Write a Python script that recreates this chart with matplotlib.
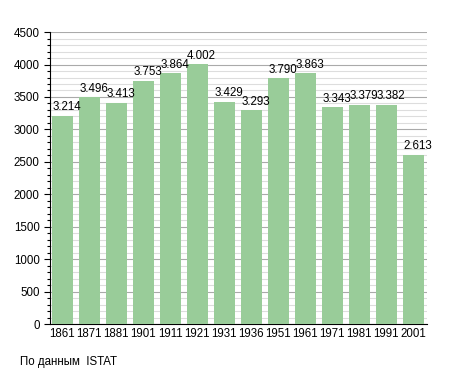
import matplotlib
matplotlib.use("Agg")
import matplotlib.pyplot as plt
from matplotlib.ticker import MultipleLocator

years = ["1861", "1871", "1881", "1901", "1911", "1921", "1931",
         "1936", "1951", "1961", "1971", "1981", "1991", "2001"]
population = [3214, 3496, 3413, 3753, 3864, 4002, 3429,
              3293, 3790, 3863, 3343, 3379, 3382, 2613]

plt.rcParams['font.family'] = ['Liberation Sans', 'DejaVu Sans']

fig = plt.figure(figsize=(4.55, 3.73), dpi=100)
ax = fig.add_axes([0.110, 0.131, 0.828, 0.783])

x = range(len(years))
ax.bar(x, population, width=0.78, color="#99cc99", zorder=3)

# value labels start at the left edge of each bar
for i, v in enumerate(population):
    ax.text(i - 0.37, v + 40, f"{v:,}".replace(",", "."), ha="left", va="bottom",
            fontsize=8.3, zorder=4)

ax.set_xlim(-0.45, len(years) - 0.5)
ax.set_ylim(0, 4500)
ax.set_xticks(list(x))
ax.set_xticklabels(years, fontsize=8.3)
ax.yaxis.set_major_locator(MultipleLocator(500))
ax.yaxis.set_minor_locator(MultipleLocator(100))
ax.tick_params(axis="y", labelsize=8.3, length=4, width=0.8)
ax.tick_params(axis="y", which="minor", length=2.5, width=0.8)
ax.tick_params(axis="x", length=0, pad=3)

ax.grid(axis="y", which="major", color="#aaaaaa", linewidth=0.8, zorder=0)
ax.grid(axis="y", which="minor", color="#dddddd", linewidth=0.8, zorder=0)

for s in ["top", "right"]:
    ax.spines[s].set_visible(False)
ax.spines["left"].set_linewidth(0.8)
ax.spines["bottom"].set_linewidth(0.8)

fig.text(20 / 455, 1 - 362 / 373, "По данным  ISTAT", fontsize=8.3, va="center")

fig.savefig("out.png", dpi=100)
